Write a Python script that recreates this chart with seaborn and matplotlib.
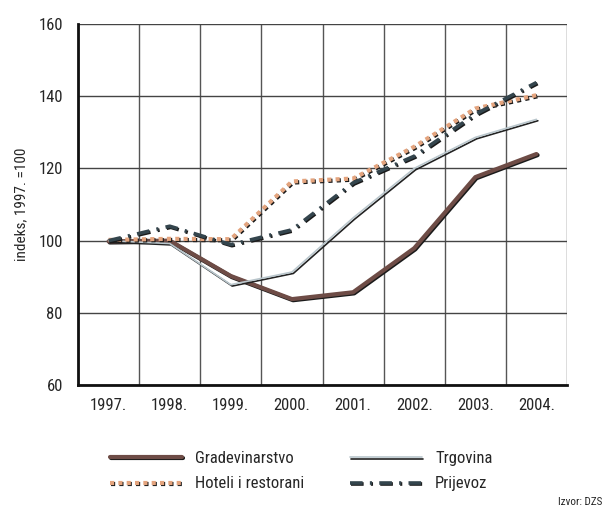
import numpy as np
import pandas as pd
import seaborn as sns
import matplotlib.pyplot as plt
import matplotlib.patheffects as pe

years = ['1997.', '1998.', '1999.', '2000.', '2001.', '2002.', '2003.', '2004.']
gradevinarstvo = [99.8, 100.0, 90.2, 83.8, 85.7, 97.9, 117.6, 124.0]
trgovina = [100.0, 99.2, 87.8, 91.3, 106.3, 120.0, 128.6, 133.6]
hoteli = [100.2, 100.5, 100.4, 116.4, 117.2, 126.0, 136.6, 140.3]
prijevoz = [100.0, 104.0, 98.9, 103.0, 116.0, 123.4, 135.0, 143.8]

sns.set_style('white')
plt.rcParams['font.family'] = ['Liberation Sans Narrow', 'DejaVu Sans Condensed', 'Roboto Condensed', 'Roboto']

fig = plt.figure(figsize=(6.12, 5.12), dpi=100)
ax = fig.add_axes([0.1275, 0.248, 0.799, 0.705])

x = np.arange(len(years))
shadow = [pe.SimpleLineShadow(offset=(0.8, -0.8), shadow_color='#1a1a1a', alpha=1), pe.Normal()]

sns.lineplot(x=x, y=gradevinarstvo, ax=ax, color='#6e4c46', lw=3, label='Gradevinarstvo',
             path_effects=shadow)
sns.lineplot(x=x, y=trgovina, ax=ax, color='#b9c6cc', lw=1.2, label='Trgovina',
             path_effects=[pe.SimpleLineShadow(offset=(1.0, -1.0), shadow_color='#222', alpha=1), pe.Normal()])
sns.lineplot(x=x, y=hoteli, ax=ax, color='#e4a47e', lw=3, label='Hoteli i restorani',
             path_effects=shadow)
sns.lineplot(x=x, y=prijevoz, ax=ax, color='#34454d', lw=2.6, label='Prijevoz',
             path_effects=shadow)

lines = ax.get_lines()
lines[2].set_linestyle((0, (1, 1)))
lines[3].set_linestyle((0, (3.5, 2, 0.6, 2)))

ax.set_xlim(-0.5, 7.5)
ax.set_ylim(60, 160)
ax.set_yticks(range(60, 161, 20))
ax.set_xticks(x)
ax.set_xticklabels(years)
ax.set_xticks(np.arange(-0.5, 8, 1), minor=True)
ax.tick_params(axis='x', which='major', length=0, pad=9, labelsize=12)
ax.tick_params(axis='x', which='minor', length=6, width=1, color='#555', direction='out')
ax.tick_params(axis='y', length=7, width=1, color='#555', direction='out', pad=4, labelsize=12)
ax.grid(True, axis='x', which='minor', color='#555', lw=1)
ax.grid(True, axis='y', which='major', color='#444', lw=1)
ax.grid(False, axis='x', which='major')

for s in ['top', 'right']:
    ax.spines[s].set_visible(False)
ax.spines['left'].set_linewidth(2)
ax.spines['bottom'].set_linewidth(2)
ax.spines['left'].set_color('#111')
ax.spines['bottom'].set_color('#111')

ax.set_ylabel('indeks, 1997. =100', fontsize=11, labelpad=7)

handles, labels = ax.get_legend_handles_labels()
ax.legend_.remove()
leg_kw = dict(loc='upper left', frameon=False, handlelength=4.3, handletextpad=0.8,
              fontsize=12, labelspacing=0.62, borderpad=0, borderaxespad=0)
leg1 = fig.legend([handles[0], handles[2]], [labels[0], labels[2]],
                  bbox_to_anchor=(110 / 612, 1 - 451 / 512), **leg_kw)
leg2 = fig.legend([handles[1], handles[3]], [labels[1], labels[3]],
                  bbox_to_anchor=(350 / 612, 1 - 451 / 512), **leg_kw)

fig.text(0.985, 0.01, 'Izvor: DZS', ha='right', va='bottom', fontsize=8)

fig.savefig('out.png', dpi=100)
